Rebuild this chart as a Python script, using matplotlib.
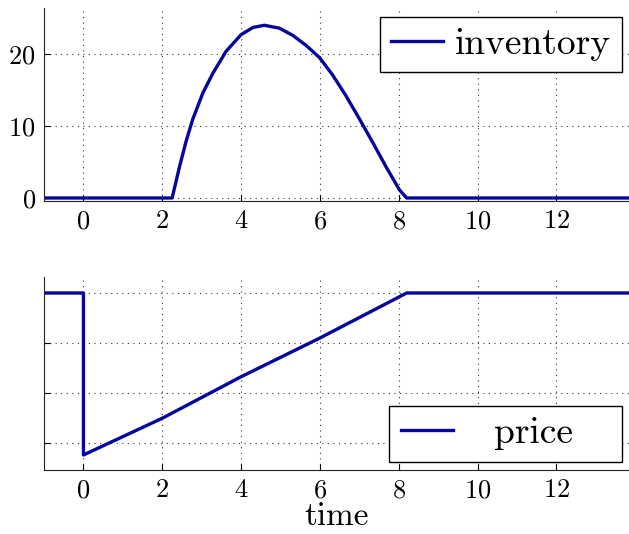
import matplotlib
matplotlib.use("Agg")
import matplotlib.pyplot as plt

plt.rcParams['font.family'] = ['cmr10', 'DejaVu Serif']
plt.rcParams['axes.formatter.use_mathtext'] = True
plt.rcParams['mathtext.fontset'] = 'cm'

# inventory curve
inv_t = [-1.0, 2.25, 2.435, 2.605, 2.77, 3.03, 3.28, 3.62, 4.0, 4.30, 4.59, 4.97, 5.31,
         5.65, 5.99, 6.32, 6.66, 7.0, 7.34, 7.68, 8.02, 8.2, 13.84]
inv_v = [0.0, 0.0, 4.3, 7.9, 10.9, 14.6, 17.3, 20.4, 22.7, 23.7, 24.0, 23.6, 22.6,
         21.2, 19.5, 17.1, 14.2, 11.0, 7.7, 4.3, 1.1, 0.0, 0.0]

# price curve (arbitrary units, no tick labels in reference)
price_t = [-1.0, 0.0, 0.0, 2.0, 4.0, 6.0, 8.2, 13.84]
price_v = [1.0, 1.0, 0.352, 0.499, 0.665, 0.82, 1.0, 1.0]

x_ticks = [0, 2, 4, 6, 8, 10, 12]
inv_yticks = [0, 10, 20]
price_yticks = [0.4, 0.6, 0.8, 1.0]

color = '#06069a'

fig = plt.figure(figsize=(6.29, 5.34), dpi=100)
ax1 = fig.add_axes([0.070, 0.6236, 0.930, 0.3614])
ax2 = fig.add_axes([0.070, 0.1199, 0.930, 0.3614])

for ax in (ax1, ax2):
    ax.spines['top'].set_visible(False)
    ax.spines['right'].set_visible(False)
    ax.spines['left'].set_color('#222222')
    ax.spines['bottom'].set_color('#222222')
    ax.set_xlim(-1.0, 13.84)
    ax.set_xticks(x_ticks)
    ax.tick_params(direction='in', length=4, width=0.8, labelsize=19, pad=6)
    ax.grid(True, linestyle=(0, (1, 4)), color='#333333', linewidth=0.8)
    ax.set_axisbelow(True)

ax1.plot(inv_t, inv_v, color=color, lw=2.4, label='inventory')
ax1.set_ylim(-0.42, 26.4)
ax1.set_yticks(inv_yticks)

ax2.plot(price_t, price_v, color=color, lw=2.4, label='price')
ax2.set_ylim(0.292, 1.064)
ax2.set_yticks(price_yticks)
ax2.set_yticklabels([])
ax2.set_xlabel('time', fontsize=24, labelpad=0)

leg1 = ax1.legend(loc='upper right', bbox_to_anchor=(0.989, 0.969), bbox_transform=fig.transFigure,
                  fontsize=27, frameon=True, fancybox=False, framealpha=1, borderaxespad=0,
                  handlelength=1.4, handletextpad=0.3, borderpad=0.3)
leg1.get_frame().set_edgecolor('black')
leg1.get_frame().set_linewidth(1.0)

leg2 = ax2.legend(loc='lower right', bbox_to_anchor=(0.989, 0.1354), bbox_transform=fig.transFigure,
                  fontsize=27, frameon=True, fancybox=False, framealpha=1, borderaxespad=0,
                  handlelength=1.4, handletextpad=1.1, borderpad=0.3)
leg2.get_texts()[0].set_text('price   ')
leg2.get_frame().set_edgecolor('black')
leg2.get_frame().set_linewidth(1.0)

fig.savefig('out.png', dpi=100)
